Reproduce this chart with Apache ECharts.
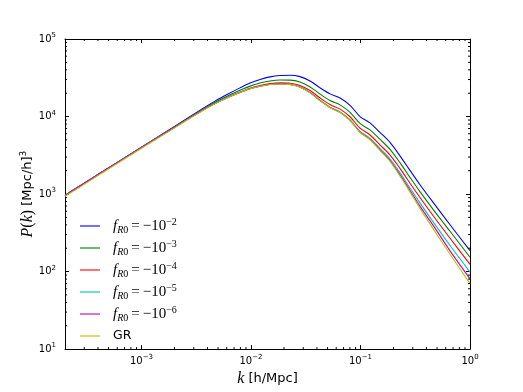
<!DOCTYPE html>
<html>
<head>
<meta charset="utf-8">
<script src="https://cdn.jsdelivr.net/npm/echarts@6/dist/echarts.min.js"></script>
<style>
  html, body { margin: 0; padding: 0; background: #fff; }
  #chart { width: 523px; height: 392px; }
</style>
</head>
<body>
<div id="chart"></div>
<script>
// wavenumber k [h/Mpc]
const kValues = [0.0002, 0.000274, 0.000418, 0.000636, 0.001, 0.00148, 0.00225, 0.00357, 0.00469, 0.00616,
  0.00794, 0.0098, 0.0121, 0.0149, 0.0184, 0.0227, 0.028, 0.0346, 0.0427, 0.0526,
  0.065, 0.0802, 0.0989, 0.122, 0.151, 0.186, 0.23, 0.283, 0.349, 0.479, 0.657, 1.0];

// P(k) [Mpc/h]^3 for each model
const pF2 = [962, 1270, 1850, 2690, 4020, 5680, 8260, 12540, 15810, 19500,
  23420, 26980, 30040, 32480, 33850, 34080, 32720, 28720, 23420, 19600,
  17310, 13920, 9990, 8270, 6210, 4630, 3090, 2020, 1320, 725, 402, 186];
const pF3 = [962, 1270, 1850, 2680, 4000, 5650, 8160, 12260, 15270, 18550,
  21830, 24680, 27010, 28770, 29560, 29440, 27840, 24080, 19470, 16110,
  14140, 11340, 8140, 6730, 5060, 3770, 2520, 1643, 1076, 590, 331, 153];
const pF4 = [962, 1270, 1850, 2680, 3990, 5600, 8050, 11970, 14780, 17810,
  20700, 23160, 25120, 26600, 27170, 26880, 25190, 21610, 17360, 14270,
  12460, 9940, 7070, 5780, 4290, 3180, 2130, 1380, 903, 487, 269, 124];
const pF5 = [962, 1270, 1850, 2680, 3990, 5600, 8040, 11940, 14740, 17710,
  20520, 22890, 24750, 26130, 26540, 26030, 24110, 20440, 16240, 13230,
  11490, 9100, 6440, 5230, 3850, 2830, 1870, 1196, 769, 403, 217, 98.6];
const pF6 = [962, 1270, 1850, 2680, 3990, 5600, 8040, 11940, 14690, 17650,
  20460, 22820, 24670, 25980, 26380, 25880, 23970, 20320, 16100, 13080,
  11320, 8940, 6300, 5090, 3720, 2710, 1760, 1118, 698, 363, 185, 80.6];
const pGR = [935, 1235, 1800, 2610, 3890, 5480, 7900, 11800, 14650, 17600,
  20400, 22750, 24600, 25900, 26300, 25800, 23900, 20200, 16000, 13000,
  11250, 8890, 6250, 5020, 3640, 2630, 1695, 1060, 654, 328, 167, 70];

const seriesNames = ['fR0_2', 'fR0_3', 'fR0_4', 'fR0_5', 'fR0_6', 'GR'];
const seriesData = [pF2, pF3, pF4, pF5, pF6, pGR];
const seriesColors = ['#0000ff', '#008000', '#ff0000', '#00bfbf', '#bf00bf', '#bfbf00'];
const legendExponents = { fR0_2: '\u22122', fR0_3: '\u22123', fR0_4: '\u22124', fR0_5: '\u22125', fR0_6: '\u22126' };

const xRange = [0.0002, 1];
const yRange = [10, 100000];

const sans = 'DejaVu Sans';
const serif = 'Liberation Serif';

// minor tick positions (2..9 x 10^n) inside the ranges
const xMinor = [];
const yMinor = [];
for (let n = -4; n <= 0; n++) {
  for (let m = 2; m <= 9; m++) {
    let v = m * Math.pow(10, n);
    if (v > xRange[0] * 1.0001 && v < xRange[1]) xMinor.push([v, yRange[0]]);
  }
}
for (let n = 1; n <= 4; n++) {
  for (let m = 2; m <= 9; m++) {
    yMinor.push([xRange[0], m * Math.pow(10, n)]);
  }
}

const powLabel = (v) => {
  let e = Math.log10(v);
  if (Math.abs(e - Math.round(e)) > 1e-6) return '';
  e = Math.round(e);
  return '{b|10}{sup|' + (e < 0 ? '\u2212' + (-e) : e) + '}';
};

const tickRich = {
  b: { fontFamily: sans, fontSize: 10, lineHeight: 14, color: '#000' },
  sup: { fontFamily: sans, fontSize: 7, lineHeight: 8, verticalAlign: 'top', color: '#000' },
};

const baseAxis = {
  type: 'log',
  logBase: 10,
  splitLine: { show: false },
  axisLine: { show: true, lineStyle: { color: '#000', width: 1 } },
  axisTick: { show: true, inside: true, length: 4, lineStyle: { color: '#000', width: 1 } },
};

const minorTicks = (isX) => (params, api) => {
  const len = 2;
  const v = isX ? api.value(0) : api.value(1);
  const a = isX ? api.coord([v, yRange[0]]) : api.coord([xRange[0], v]);
  const b = isX ? api.coord([v, yRange[1]]) : api.coord([xRange[1], v]);
  const st = { stroke: '#000', lineWidth: 1 };
  if (isX) {
    return {
      type: 'group',
      children: [
        { type: 'line', shape: { x1: a[0], y1: a[1], x2: a[0], y2: a[1] - len }, style: st },
        { type: 'line', shape: { x1: b[0], y1: b[1], x2: b[0], y2: b[1] + len }, style: st },
      ],
    };
  }
  return {
    type: 'group',
    children: [
      { type: 'line', shape: { x1: a[0], y1: a[1], x2: a[0] + len, y2: a[1] }, style: st },
      { type: 'line', shape: { x1: b[0], y1: b[1], x2: b[0] - len, y2: b[1] }, style: st },
    ],
  };
};

let chart = echarts.init(document.getElementById('chart'));

let lineSeries = seriesNames.map((name, i) => ({
  name,
  type: 'line',
  data: kValues.map((k, j) => [k, seriesData[i][j]]),
  symbol: 'none',
  smooth: 0.3,
  color: seriesColors[i],
  lineStyle: { width: 1.1, color: seriesColors[i] },
  z: 3 + i,
}));

let option = {
  animation: false,
  backgroundColor: '#fff',
  grid: { left: 65, right: 53, top: 39, bottom: 39 },
  legend: {
    data: seriesNames,
    orient: 'vertical',
    left: 80,
    top: 217,
    padding: 0,
    itemGap: 4,
    icon: 'rect',
    itemWidth: 20,
    itemHeight: 2,
    itemStyle: { opacity: 0.55 },
    textStyle: {
      padding: [0, 0, 0, 8],
      lineHeight: 18,
      rich: {
        i: { fontFamily: serif, fontStyle: 'italic', fontSize: 15, lineHeight: 18, color: '#000' },
        si: { fontFamily: serif, fontStyle: 'italic', fontSize: 10, lineHeight: 10, verticalAlign: 'bottom', color: '#000' },
        s0: { fontFamily: serif, fontSize: 10, lineHeight: 10, verticalAlign: 'bottom', color: '#000' },
        n: { fontFamily: serif, fontSize: 15, lineHeight: 18, color: '#000' },
        sup: { fontFamily: serif, fontSize: 10, lineHeight: 10, verticalAlign: 'top', color: '#000' },
        gr: { fontFamily: sans, fontSize: 12.5, lineHeight: 18, color: '#000' },
      },
    },
    formatter: (name) => {
      if (name === 'GR') return '{gr|GR}';
      return '{i|f}{si|R}{s0|0}{n|\u2009=\u2009\u221210}{sup|' + legendExponents[name] + '}';
    },
  },
  xAxis: [
    {
      ...baseAxis,
      min: xRange[0],
      max: xRange[1],
      position: 'bottom',
      axisLabel: { margin: 5, formatter: powLabel, rich: tickRich, showMinLabel: true },
      name: '{i|k} [h/Mpc]',
      nameLocation: 'middle',
      nameGap: 19,
      nameTextStyle: {
        rich: {
          i: { fontFamily: serif, fontStyle: 'italic', fontSize: 16, color: '#000' },
        },
        fontFamily: sans,
        fontSize: 13,
        color: '#000',
      },
    },
    {
      ...baseAxis,
      min: xRange[0],
      max: xRange[1],
      position: 'top',
      axisLabel: { show: false },
    },
  ],
  yAxis: [
    {
      ...baseAxis,
      min: yRange[0],
      max: yRange[1],
      position: 'left',
      axisLabel: { margin: 9, formatter: powLabel, rich: tickRich },
      name: '{i|P}{n|(}{i|k}{n|)} [Mpc/h]{sup|3}',
      nameLocation: 'middle',
      nameRotate: 90,
      nameGap: 29,
      nameMoveOverlap: false,
      nameTextStyle: {
        rich: {
          i: { fontFamily: serif, fontStyle: 'italic', fontSize: 16, lineHeight: 17, color: '#000' },
          n: { fontFamily: serif, fontSize: 16, lineHeight: 17, color: '#000' },
          sup: { fontFamily: sans, fontSize: 9, lineHeight: 9, verticalAlign: 'top', color: '#000' },
        },
        fontFamily: sans,
        fontSize: 13,
        lineHeight: 17,
        color: '#000',
      },
    },
    {
      ...baseAxis,
      min: yRange[0],
      max: yRange[1],
      position: 'right',
      axisLabel: { show: false },
    },
  ],
  series: [
    ...lineSeries,
    {
      type: 'custom',
      name: 'xMinor',
      data: xMinor,
      renderItem: minorTicks(true),
      clip: false,
      silent: true,
      z: 10,
    },
    {
      type: 'custom',
      name: 'yMinor',
      data: yMinor,
      renderItem: minorTicks(false),
      clip: false,
      silent: true,
      z: 10,
    },
  ],
};

option && chart.setOption(option);
</script>
</body>
</html>
